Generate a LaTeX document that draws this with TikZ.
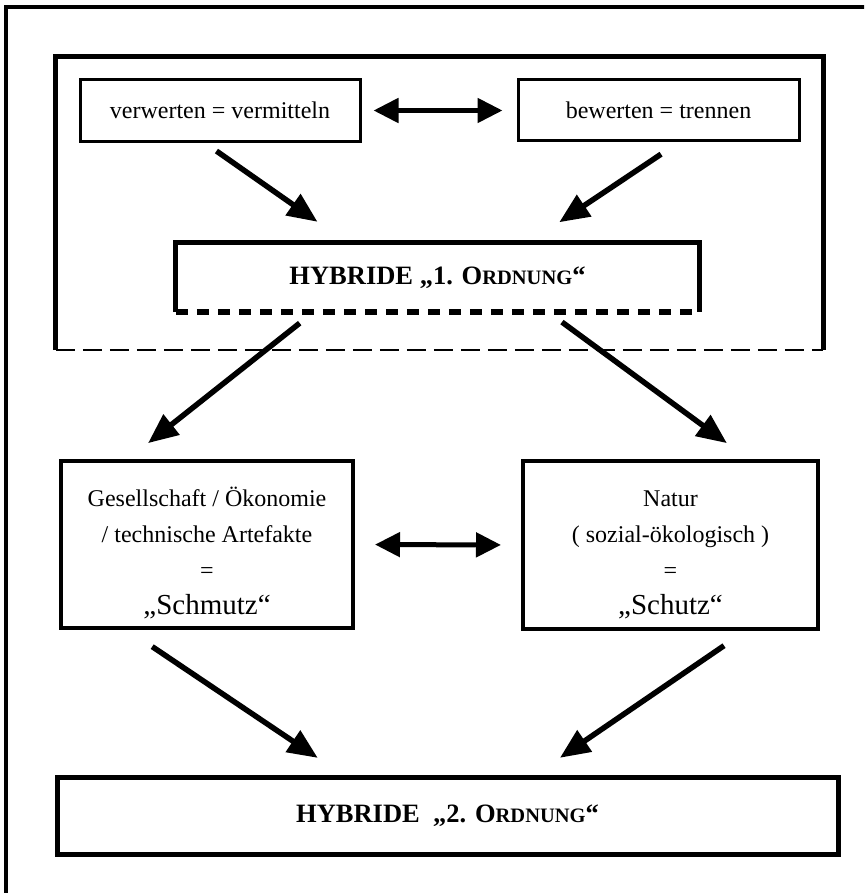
\documentclass[tikz,border=0pt]{standalone}
\usepackage{fontspec}
\setmainfont{Liberation Serif}
\usetikzlibrary{arrows.meta,positioning}
\newcommand{\boxfont}{\fontsize{24}{36}\selectfont}
\newcommand{\hybfont}{\fontsize{26.5}{30}\selectfont\bfseries}
\newcommand{\zitatfont}{\fontsize{29}{37}\selectfont}
\newcommand{\kapit}[1]{{\fontsize{20.5}{30}\selectfont #1}}
\tikzstyle{block} = [rectangle, draw, line width=3pt, inner sep=0pt,
    align=center, font=\boxfont]
\tikzstyle{bigblock} = [block, line width=4pt]
\tikzstyle{hybrid} = [rectangle, inner sep=0pt, align=center, font=\hybfont]
\tikzstyle{frame} = [draw, line width=5pt]
\tikzstyle{line} = [draw, line width=5.5pt, -{Triangle[length=30pt,width=25pt]}]
\tikzstyle{both} = [draw, line width=5pt,
    {Triangle[length=25pt,width=24pt]}-{Triangle[length=25pt,width=24pt]}]

\begin{document}
\begin{tikzpicture}[x=1pt, y=1pt]
	    \useasboundingbox (0,0) rectangle (864,-893);
	    \clip (0,0) rectangle (864,-893);
	    % Outer frame
	    \draw [line width=4pt] (6,-940) -- (6,-7) -- (920,-7);
	    % Place nodes
	    \node [hybrid, minimum width=767pt, minimum height=293pt] (ebene) at (439.5,-203.5) {};
	    \node [block, minimum width=280pt, minimum height=62pt] (verw) at (220,-110.5) {verwerten\ =\ vermitteln};
	    \node [block, minimum width=281pt, minimum height=61pt] (bew) at (658.5,-110.5) {bewerten\ =\ trennen};
	    \node [hybrid, minimum width=523pt, minimum height=69pt] (hyb1) at (437.5,-277.5)
	        {\raisebox{-4pt}{HYBRIDE „1. O\kapit{RDNUNG}“}};
	    \node [bigblock, minimum width=292pt, minimum height=167pt] (schmutz) at (207,-544.5)
	        {\rule{0pt}{36pt}Gesellschaft / Ökonomie\\ / technische Artefakte\\ =\\ {\zitatfont „Schmutz“}};
	    \node [bigblock, minimum width=295pt, minimum height=168pt] (schutz) at (670.5,-545)
	        {\rule{0pt}{36pt}Natur\\ ( sozial-ökologisch )\\ =\\ {\zitatfont „Schutz“}};
	    \node [hybrid, draw, line width=5pt, minimum width=781pt, minimum height=77pt] (hyb2) at (447.5,-815.5)
	        {HYBRIDE\enspace„2. O\kapit{RDNUNG}“};
	    % Open frames with dashed bottom
	    \draw [frame] (ebene.south west) -- (ebene.north west) -- (ebene.north east) -- (ebene.south east);
	    \draw [line width=2.5pt, dash pattern=on 19pt off 8pt] (ebene.south west) -- (ebene.south east);
	    \draw [frame] (hyb1.south west) -- (hyb1.north west) -- (hyb1.north east) -- (hyb1.south east);
	    \draw [line width=5.5pt, dash pattern=on 12pt off 9pt] (hyb1.south west) -- (hyb1.south east);
	    % Draw edges
	    \path [both, shorten <=12pt, shorten >=14pt] (verw.east) -- (bew.west);
	    \path [both, shorten <=20pt, shorten >=20pt] (schmutz.east) -- (schutz.west);
	    \path [line, shorten <=14pt, shorten >=36.6pt] ([xshift=-15pt]verw.south) -- ([xshift=-90pt]hyb1.north);
	    \path [line, shorten <=21pt, shorten >=37pt] ([xshift=20pt]bew.south) -- ([xshift=91pt]hyb1.north);
	    \path [line, shorten <=17.6pt, shorten >=25.6pt] ([xshift=-124pt]hyb1.south) -- ([xshift=-79pt]schmutz.north);
	    \path [line, shorten <=16.7pt, shorten >=26.8pt] ([xshift=111pt]hyb1.south) -- ([xshift=78pt]schutz.north);
	    \path [line, shorten <=29.8pt, shorten >=29.8pt] ([xshift=-79.5pt]schmutz.south) -- ([xshift=-105pt]hyb2.north);
	    \path [line, shorten <=26pt, shorten >=29.6pt] ([xshift=75pt]schutz.south) -- ([xshift=88pt]hyb2.north);
	\end{tikzpicture}
\end{document}
